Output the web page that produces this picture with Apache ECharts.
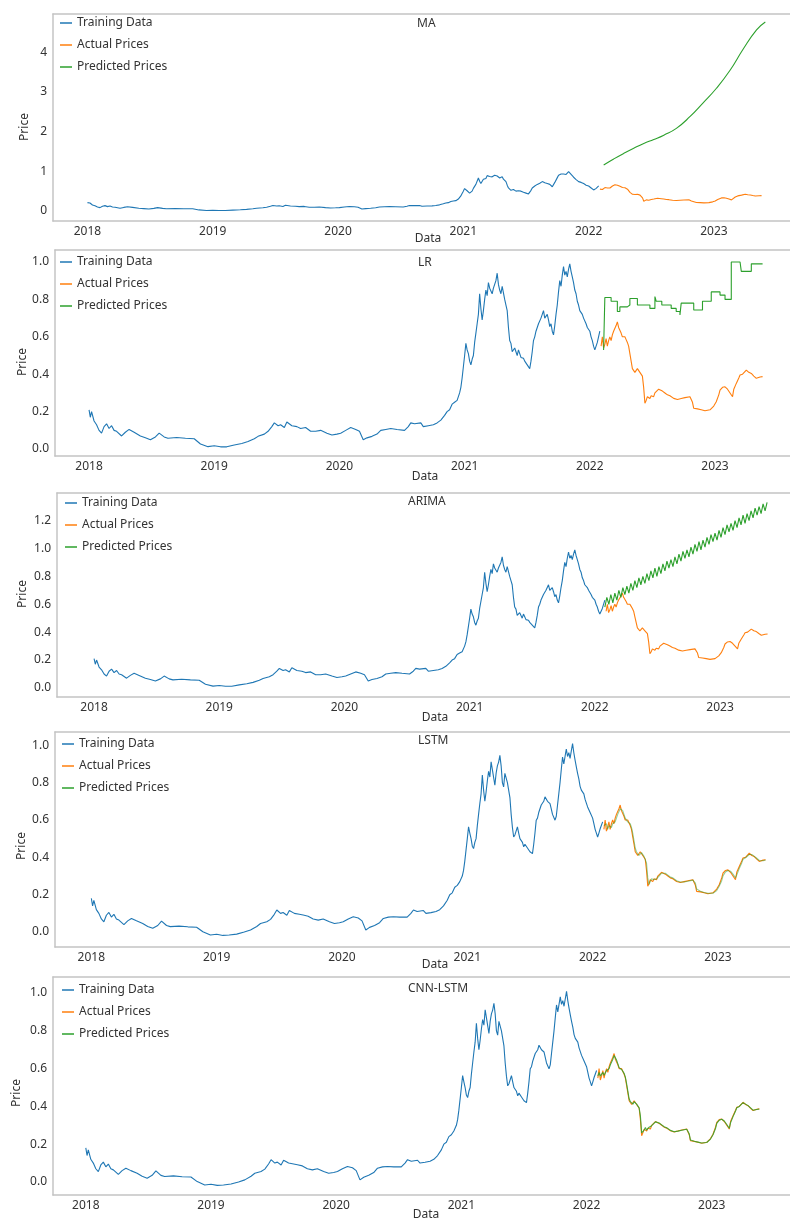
<!DOCTYPE html>
<html>
<head>
<meta charset="utf-8">
<script src="https://cdn.jsdelivr.net/npm/echarts@6/dist/echarts.min.js"></script>
<style>
  html, body { margin: 0; padding: 0; background: #fff; }
  #chart { width: 790px; height: 1220px; }
</style>
</head>
<body>
<div id="chart"></div>
<script>
// training period, decimal years
const trainDates = [
  2018.00, 2018.01, 2018.02, 2018.04, 2018.06, 2018.08, 2018.10, 2018.12, 2018.14, 2018.16,
  2018.18, 2018.20, 2018.22, 2018.26, 2018.29, 2018.32, 2018.36, 2018.41, 2018.45, 2018.49,
  2018.53, 2018.56, 2018.60, 2018.63, 2018.70, 2018.77, 2018.84, 2018.89, 2018.95, 2019.00,
  2019.05, 2019.10, 2019.16, 2019.22, 2019.27, 2019.32, 2019.35, 2019.40, 2019.43, 2019.46,
  2019.48, 2019.51, 2019.53, 2019.56, 2019.58, 2019.62, 2019.66, 2019.69, 2019.73, 2019.77,
  2019.81, 2019.85, 2019.90, 2019.94, 2019.98, 2020.01, 2020.05, 2020.09, 2020.13, 2020.16,
  2020.19, 2020.22, 2020.26, 2020.30, 2020.33, 2020.37, 2020.41, 2020.46, 2020.52, 2020.55,
  2020.57, 2020.60, 2020.65, 2020.67, 2020.71, 2020.75, 2020.78, 2020.81, 2020.84, 2020.86,
  2020.88, 2020.90, 2020.92, 2020.94, 2020.96, 2020.97, 2020.98, 2020.99, 2021.00, 2021.01,
  2021.02, 2021.03, 2021.04, 2021.05, 2021.06, 2021.07, 2021.08, 2021.09, 2021.10, 2021.11,
  2021.12, 2021.13, 2021.14, 2021.15, 2021.16, 2021.17, 2021.18, 2021.19, 2021.20, 2021.21,
  2021.22, 2021.23, 2021.24, 2021.25, 2021.26, 2021.27, 2021.28, 2021.29, 2021.30, 2021.31,
  2021.32, 2021.33, 2021.34, 2021.35, 2021.36, 2021.37, 2021.38, 2021.39, 2021.40, 2021.41,
  2021.42, 2021.43, 2021.44, 2021.45, 2021.46, 2021.47, 2021.48, 2021.49, 2021.50, 2021.51,
  2021.52, 2021.53, 2021.54, 2021.55, 2021.56, 2021.57, 2021.58, 2021.59, 2021.60, 2021.61,
  2021.62, 2021.63, 2021.64, 2021.65, 2021.66, 2021.67, 2021.68, 2021.69, 2021.70, 2021.71,
  2021.72, 2021.73, 2021.74, 2021.75, 2021.76, 2021.77, 2021.78, 2021.79, 2021.80, 2021.81,
  2021.82, 2021.83, 2021.84, 2021.85, 2021.86, 2021.87, 2021.88, 2021.89, 2021.90, 2021.91,
  2021.92, 2021.93, 2021.94, 2021.95, 2021.96, 2021.97, 2021.98, 2021.99, 2022.00, 2022.01,
  2022.02, 2022.03, 2022.04, 2022.05, 2022.06, 2022.07, 2022.08
];

// training prices as scaled for MA / LR / ARIMA
const trainPricesA = [
  0.21, 0.17, 0.20, 0.15, 0.13, 0.10, 0.085, 0.12, 0.135, 0.11,
  0.125, 0.10, 0.095, 0.07, 0.09, 0.105, 0.09, 0.07, 0.06, 0.05,
  0.065, 0.085, 0.065, 0.058, 0.062, 0.058, 0.055, 0.027, 0.013, 0.018,
  0.012, 0.012, 0.022, 0.03, 0.04, 0.055, 0.068, 0.08, 0.095, 0.12,
  0.14, 0.125, 0.13, 0.115, 0.145, 0.125, 0.12, 0.11, 0.115, 0.095,
  0.095, 0.10, 0.085, 0.075, 0.08, 0.085, 0.10, 0.115, 0.105, 0.095,
  0.05, 0.06, 0.068, 0.08, 0.10, 0.105, 0.11, 0.105, 0.10, 0.12,
  0.14, 0.135, 0.14, 0.12, 0.125, 0.13, 0.14, 0.155, 0.18, 0.20,
  0.21, 0.24, 0.25, 0.26, 0.30, 0.33, 0.38, 0.44, 0.50, 0.565,
  0.53, 0.51, 0.47, 0.45, 0.48, 0.50, 0.57, 0.62, 0.67, 0.72,
  0.83, 0.75, 0.69, 0.74, 0.80, 0.85, 0.82, 0.89, 0.86, 0.87,
  0.83, 0.86, 0.88, 0.90, 0.94, 0.88, 0.85, 0.83, 0.87, 0.86,
  0.80, 0.77, 0.74, 0.65, 0.58, 0.565, 0.52, 0.51, 0.54, 0.52,
  0.50, 0.53, 0.51, 0.49, 0.50, 0.485, 0.47, 0.48, 0.45, 0.44,
  0.43, 0.47, 0.52, 0.58, 0.60, 0.63, 0.65, 0.67, 0.66, 0.70,
  0.72, 0.74, 0.70, 0.71, 0.72, 0.69, 0.655, 0.67, 0.63, 0.61,
  0.66, 0.72, 0.77, 0.84, 0.90, 0.87, 0.93, 0.975, 0.93, 0.95,
  0.92, 0.96, 0.99, 0.95, 0.92, 0.89, 0.85, 0.83, 0.79, 0.77,
  0.74, 0.75, 0.72, 0.70, 0.69, 0.67, 0.65, 0.66, 0.63, 0.60,
  0.58, 0.55, 0.53, 0.55, 0.57, 0.58, 0.63
];

// training prices as scaled for LSTM / CNN-LSTM
const trainPricesB = [
  0.18, 0.14, 0.17, 0.12, 0.10, 0.07, 0.055, 0.09, 0.105, 0.08,
  0.095, 0.07, 0.064, 0.04, 0.06, 0.073, 0.06, 0.046, 0.03, 0.02,
  0.035, 0.059, 0.035, 0.029, 0.032, 0.028, 0.026, 0.002, -0.016, -0.012,
  -0.018, -0.016, -0.011, 0.0, 0.011, 0.03, 0.046, 0.055, 0.068, 0.095,
  0.118, 0.10, 0.105, 0.09, 0.115, 0.10, 0.095, 0.091, 0.085, 0.07,
  0.064, 0.07, 0.055, 0.046, 0.05, 0.055, 0.07, 0.082, 0.075, 0.06,
  0.011, 0.025, 0.035, 0.05, 0.073, 0.08, 0.082, 0.08, 0.08, 0.10,
  0.118, 0.11, 0.115, 0.10, 0.104, 0.11, 0.12, 0.14, 0.17, 0.20,
  0.21, 0.24, 0.25, 0.27, 0.30, 0.33, 0.38, 0.44, 0.50, 0.563,
  0.53, 0.50, 0.46, 0.447, 0.48, 0.50, 0.57, 0.63, 0.688, 0.74,
  0.84, 0.76, 0.70, 0.75, 0.81, 0.86, 0.83, 0.911, 0.87, 0.88,
  0.786, 0.85, 0.89, 0.91, 0.946, 0.89, 0.80, 0.777, 0.85, 0.848,
  0.80, 0.76, 0.72, 0.63, 0.56, 0.509, 0.52, 0.53, 0.563, 0.53,
  0.50, 0.50, 0.48, 0.456, 0.47, 0.46, 0.45, 0.44, 0.43, 0.425,
  0.42, 0.47, 0.53, 0.599, 0.61, 0.64, 0.66, 0.68, 0.67, 0.70,
  0.724, 0.73, 0.70, 0.69, 0.688, 0.66, 0.63, 0.64, 0.599, 0.62,
  0.68, 0.74, 0.80, 0.87, 0.937, 0.90, 0.94, 0.98, 0.94, 0.96,
  0.93, 0.97, 1.009, 0.96, 0.92, 0.884, 0.85, 0.82, 0.78, 0.76,
  0.75, 0.74, 0.71, 0.69, 0.67, 0.66, 0.64, 0.65, 0.61, 0.58,
  0.55, 0.53, 0.509, 0.53, 0.553, 0.56, 0.59
];

// test period
const testDates = [
  2022.09, 2022.10, 2022.11, 2022.12, 2022.13, 2022.14, 2022.15, 2022.16, 2022.17, 2022.18,
  2022.19, 2022.20, 2022.21, 2022.22, 2022.23, 2022.24, 2022.25, 2022.26, 2022.27, 2022.28,
  2022.29, 2022.30, 2022.31, 2022.32, 2022.33, 2022.34, 2022.35, 2022.36, 2022.37, 2022.38,
  2022.39, 2022.40, 2022.41, 2022.42, 2022.43, 2022.44, 2022.45, 2022.46, 2022.47, 2022.48,
  2022.49, 2022.50, 2022.51, 2022.52, 2022.53, 2022.55, 2022.56, 2022.58, 2022.60, 2022.62,
  2022.64, 2022.67, 2022.70, 2022.73, 2022.76, 2022.80, 2022.82, 2022.83, 2022.86, 2022.89,
  2022.92, 2022.96, 2022.99, 2023.01, 2023.03, 2023.04, 2023.06, 2023.08, 2023.10, 2023.12,
  2023.14, 2023.15, 2023.17, 2023.19, 2023.20, 2023.22, 2023.25, 2023.27, 2023.29, 2023.31,
  2023.33, 2023.36, 2023.38
];

const actualPrices = [
  0.55, 0.60, 0.54, 0.56, 0.59, 0.55, 0.58, 0.60, 0.58, 0.61,
  0.63, 0.64, 0.66, 0.68, 0.65, 0.64, 0.62, 0.60, 0.59, 0.60,
  0.585, 0.57, 0.55, 0.51, 0.47, 0.43, 0.42, 0.41, 0.415, 0.43,
  0.42, 0.41, 0.40, 0.39, 0.33, 0.245, 0.26, 0.28, 0.29, 0.27,
  0.285, 0.29, 0.28, 0.30, 0.306, 0.32, 0.325, 0.31, 0.30, 0.29,
  0.285, 0.271, 0.265, 0.27, 0.275, 0.28, 0.25, 0.218, 0.215, 0.21,
  0.205, 0.21, 0.23, 0.253, 0.29, 0.315, 0.33, 0.333, 0.32, 0.30,
  0.28, 0.32, 0.351, 0.38, 0.396, 0.40, 0.422, 0.41, 0.404, 0.39,
  0.378, 0.385, 0.387
];

const lstmPred = [
  0.57, 0.56, 0.58, 0.55, 0.57, 0.58, 0.56, 0.58, 0.59, 0.59,
  0.61, 0.63, 0.64, 0.66, 0.67, 0.65, 0.63, 0.61, 0.60, 0.59,
  0.59, 0.58, 0.56, 0.53, 0.49, 0.45, 0.43, 0.42, 0.41, 0.42,
  0.425, 0.415, 0.405, 0.395, 0.37, 0.29, 0.255, 0.27, 0.285, 0.28,
  0.28, 0.29, 0.285, 0.295, 0.30, 0.315, 0.32, 0.315, 0.305, 0.295,
  0.29, 0.275, 0.268, 0.268, 0.272, 0.278, 0.262, 0.23, 0.218, 0.212,
  0.208, 0.208, 0.222, 0.245, 0.275, 0.30, 0.322, 0.33, 0.326, 0.31,
  0.29, 0.305, 0.34, 0.37, 0.39, 0.398, 0.415, 0.415, 0.405, 0.395,
  0.383, 0.382, 0.386
];

const cnnLstmPred = [
  0.56, 0.58, 0.56, 0.555, 0.58, 0.565, 0.57, 0.59, 0.585, 0.60,
  0.62, 0.635, 0.65, 0.67, 0.66, 0.645, 0.625, 0.605, 0.595, 0.595,
  0.585, 0.575, 0.555, 0.52, 0.48, 0.44, 0.425, 0.415, 0.412, 0.425,
  0.42, 0.412, 0.402, 0.392, 0.35, 0.26, 0.258, 0.275, 0.288, 0.275,
  0.282, 0.29, 0.282, 0.298, 0.304, 0.318, 0.322, 0.312, 0.302, 0.292,
  0.287, 0.273, 0.266, 0.269, 0.274, 0.279, 0.255, 0.222, 0.216, 0.211,
  0.206, 0.209, 0.227, 0.25, 0.283, 0.31, 0.327, 0.332, 0.323, 0.304,
  0.284, 0.313, 0.346, 0.376, 0.393, 0.40, 0.42, 0.412, 0.404, 0.392,
  0.38, 0.384, 0.386
];

// MA forecast
const maDates = [2022.12, 2022.20, 2022.28, 2022.36, 2022.44, 2022.52, 2022.60, 2022.70,
  2022.81, 2022.91, 2023.02, 2023.13, 2023.23, 2023.34, 2023.41];
const maPred = [1.16, 1.31, 1.45, 1.58, 1.70, 1.80, 1.91, 2.08, 2.38, 2.71, 3.09, 3.55, 4.06, 4.56, 4.76];

// LR forecast (held values)
const lrDates = [2022.11, 2022.12, 2022.17, 2022.22, 2022.24, 2022.30, 2022.32, 2022.38, 2022.48,
  2022.52, 2022.53, 2022.575, 2022.65, 2022.69, 2022.72, 2022.73, 2022.83, 2022.90, 2022.97,
  2023.04, 2023.08, 2023.13, 2023.20, 2023.21, 2023.29, 2023.38];
const lrPred = [0.53, 0.81, 0.79, 0.735, 0.76, 0.77, 0.805, 0.77, 0.752,
  0.815, 0.79, 0.77, 0.752, 0.735, 0.717, 0.78, 0.743, 0.79, 0.84,
  0.823, 0.80, 1.0, 0.99, 0.95, 0.99, 0.99];

// ARIMA forecast, one value every 0.016 year from 2022.08
const arimaStart = 2022.08;
const arimaStep = 0.016;
const arimaPred = [
  0.58, 0.65, 0.60, 0.67, 0.61, 0.68, 0.63, 0.70, 0.65, 0.72,
  0.67, 0.73, 0.68, 0.75, 0.70, 0.77, 0.72, 0.79, 0.74, 0.80,
  0.75, 0.82, 0.77, 0.84, 0.79, 0.86, 0.80, 0.87, 0.82, 0.89,
  0.84, 0.91, 0.86, 0.92, 0.87, 0.94, 0.89, 0.96, 0.91, 0.98,
  0.93, 0.99, 0.94, 1.01, 0.96, 1.03, 0.98, 1.05, 0.99, 1.06,
  1.01, 1.08, 1.03, 1.10, 1.05, 1.11, 1.06, 1.13, 1.08, 1.15,
  1.10, 1.17, 1.12, 1.18, 1.13, 1.20, 1.15, 1.22, 1.17, 1.24,
  1.18, 1.25, 1.20, 1.27, 1.22, 1.29, 1.24, 1.30, 1.25, 1.32,
  1.27, 1.33
];

const yearTicks = [2018, 2019, 2020, 2021, 2022, 2023];
const maTicks = [0, 1, 2, 3, 4];
const unitTicks = [0, 0.2, 0.4, 0.6, 0.8, 1.0];
const arimaTicks = [0, 0.2, 0.4, 0.6, 0.8, 1.0, 1.2, 1.4];
const names = ['Training Data', 'Actual Prices', 'Predicted Prices'];

const pairs = (xs, ys) => xs.map((x, i) => [x, ys[i]]);
const arimaData = arimaPred.map((v, i) => [arimaStart + i * arimaStep, v]);

const FONT = 'Noto Sans';
const TXT = '#333';
const FRAME = { color: '#c4c4c4', width: 1.5 };
const BLUE = '#1f77b4', ORANGE = '#ff7f0e', GREEN = '#2ca02c';
const EDGE = 796; // the source figure is cut on the right: the plot runs past the canvas

const panels = [
  { title: 'MA', left: 53, top: 14, height: 207, xr: [2017.725, 2023.607], yr: [-0.252, 4.96], ticks: maTicks, dig: 0,
    tl: [417, 18], lg: [60, 16], price: [25, 127], dataLbl: [428, 239],
    train: trainPricesA, pred: pairs(maDates, maPred), smooth: true },
  { title: 'LR', left: 55, top: 250, height: 206, xr: [2017.728, 2023.599], yr: [-0.037, 1.064], ticks: unitTicks, dig: 1,
    tl: [418, 257], lg: [60, 255], price: [23, 362], dataLbl: [425, 477],
    train: trainPricesA, pred: pairs(lrDates, lrPred), step: 'end' },
  { title: 'ARIMA', left: 57, top: 493, height: 204, xr: [2017.704, 2023.559], yr: [-0.065, 1.398], ticks: arimaTicks, dig: 1,
    tl: [408, 496], lg: [65, 496], price: [23, 594], dataLbl: [435, 718],
    train: trainPricesA, pred: arimaData },
  { title: 'LSTM', left: 55, top: 732, height: 215, xr: [2017.71, 2023.575], yr: [-0.080, 1.071], ticks: unitTicks, dig: 1,
    tl: [418, 735], lg: [62, 737], price: [22, 846], dataLbl: [435, 965],
    train: trainPricesB, pred: pairs(testDates, lstmPred), predOpacity: 0.5 },
  { title: 'CNN-LSTM', left: 53, top: 977, height: 218, xr: [2017.738, 2023.625], yr: [-0.069, 1.085], ticks: unitTicks, dig: 1,
    tl: [408, 983], lg: [62, 983], price: [17, 1093], dataLbl: [426, 1215],
    train: trainPricesB, pred: pairs(testDates, cnnLstmPred), predOpacity: 0.85 }
];

const grid = [], xAxis = [], topAxes = [], yAxis = [], series = [], title = [], legend = [], graphic = [];

panels.forEach((p, i) => {
  grid.push({
    left: p.left, top: p.top, width: EDGE - p.left, height: p.height,
    outerBoundsMode: 'none', containLabel: false, show: false
  });
  // xr is the range visible between the left edge and x = 790
  const span = (p.xr[1] - p.xr[0]) * (EDGE - p.left) / (790 - p.left);
  const xMin = p.xr[0], xMax = p.xr[0] + span;
  xAxis.push({
    type: 'value', gridIndex: i, min: xMin, max: xMax, position: 'bottom',
    axisLine: { show: true, onZero: false, lineStyle: FRAME },
    axisTick: { show: false }, splitLine: { show: false },
    axisLabel: {
      customValues: yearTicks, margin: 5, fontSize: 12, fontFamily: FONT, color: TXT,
      formatter: v => String(Math.round(v))
    }
  });
  // top frame line only
  topAxes.push({
    type: 'value', gridIndex: i, min: xMin, max: xMax, position: 'top',
    axisLine: { show: true, onZero: false, lineStyle: FRAME },
    axisTick: { show: false }, splitLine: { show: false }, axisLabel: { show: false }
  });
  yAxis.push({
    type: 'value', gridIndex: i, min: p.yr[0], max: p.yr[1],
    axisLine: { show: true, onZero: false, lineStyle: FRAME },
    axisTick: { show: false }, splitLine: { show: false },
    axisLabel: {
      customValues: p.ticks, margin: 6, fontSize: 12, fontFamily: FONT, color: TXT,
      formatter: v => v.toFixed(p.dig)
    }
  });
  const base = { type: 'line', xAxisIndex: i, yAxisIndex: i, showSymbol: false, symbol: 'none', animation: false };
  series.push(Object.assign({}, base, {
    name: names[0], data: pairs(trainDates, p.train), color: BLUE, lineStyle: { width: 1.1, color: BLUE }
  }));
  series.push(Object.assign({}, base, {
    name: names[1], data: pairs(testDates, actualPrices), color: ORANGE, lineStyle: { width: 1.1, color: ORANGE }
  }));
  series.push(Object.assign({}, base, {
    name: names[2], data: p.pred, color: GREEN, smooth: !!p.smooth, step: p.step || false,
    lineStyle: { width: 1.1, color: GREEN, opacity: p.predOpacity || 1 }
  }));
  title.push({
    text: p.title, left: p.tl[0], top: p.tl[1], padding: 0,
    textStyle: { fontSize: 12, fontWeight: 'normal', fontFamily: FONT, color: TXT }
  });
  legend.push({
    data: names, orient: 'vertical', left: p.lg[0], top: p.lg[1], padding: 0,
    itemGap: 8, itemWidth: 12, itemHeight: 1.5, icon: 'rect', selectedMode: false,
    textStyle: { fontSize: 12, lineHeight: 14, fontFamily: FONT, color: TXT }
  });
  graphic.push({
    type: 'text', x: p.price[0], y: p.price[1], rotation: Math.PI / 2,
    style: { text: 'Price', fontSize: 12, fontFamily: FONT, fill: TXT, align: 'center', verticalAlign: 'middle' }
  });
  graphic.push({
    type: 'text', x: p.dataLbl[0], y: p.dataLbl[1],
    style: { text: 'Data', fontSize: 12, fontFamily: FONT, fill: TXT, align: 'center', verticalAlign: 'middle' }
  });
});

const chart = echarts.init(document.getElementById('chart'), null, { renderer: 'canvas' });
chart.setOption({
  backgroundColor: '#fff',
  animation: false,
  grid, xAxis: xAxis.concat(topAxes), yAxis, series, title, legend, graphic
});
</script>
</body>
</html>
